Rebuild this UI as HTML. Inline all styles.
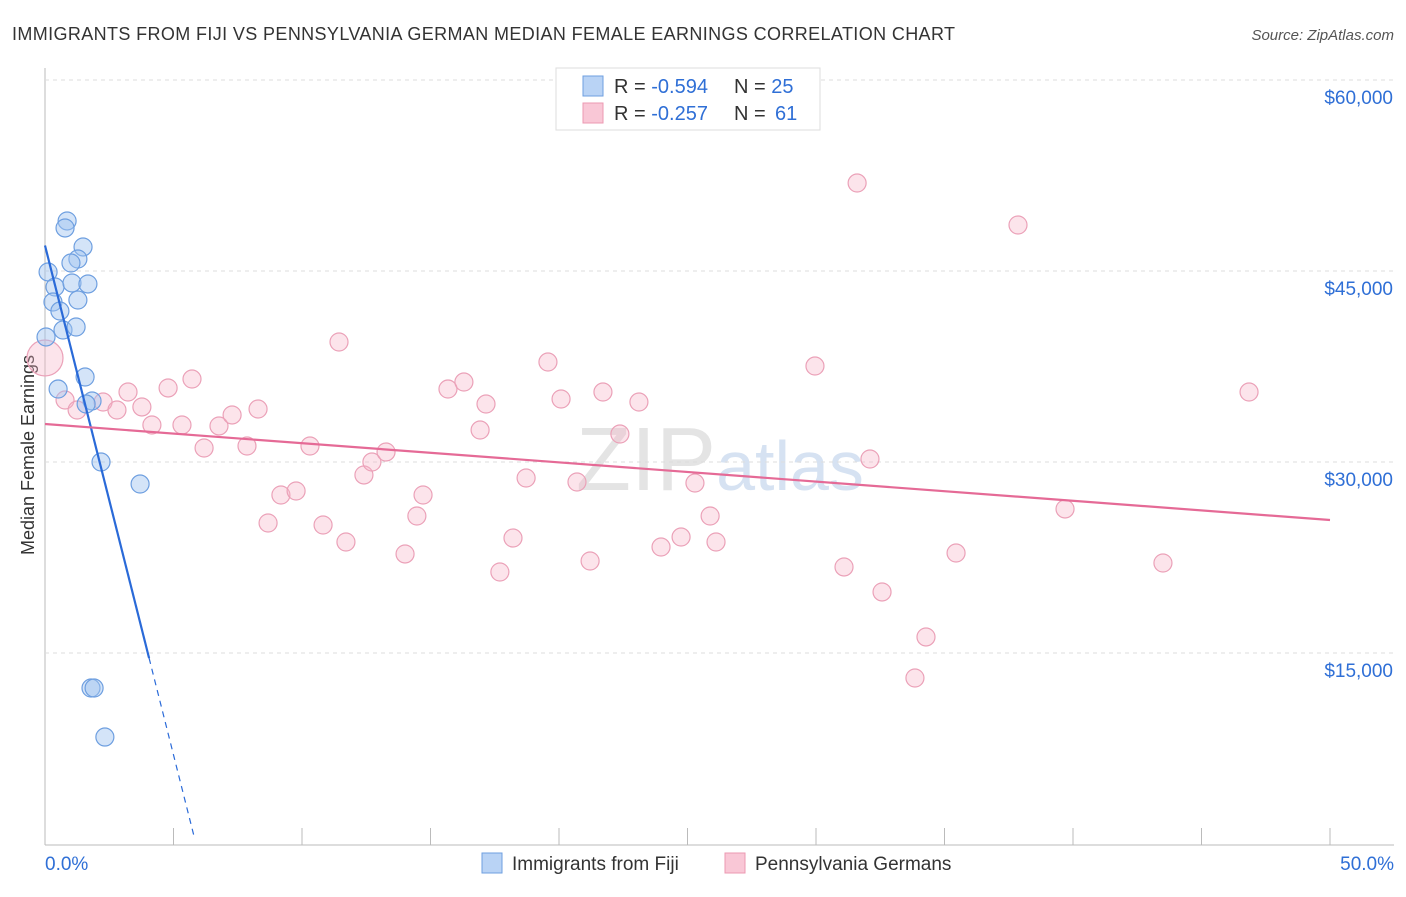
<!DOCTYPE html>
<html><head><meta charset="utf-8"><style>
body{margin:0;background:#fff;font-family:"Liberation Sans",sans-serif}
svg text{font-family:"Liberation Sans",sans-serif}
</style></head><body>
<svg id="c" width="1406" height="892">
<text x="12" y="40" font-size="18" fill="#333" textLength="943" lengthAdjust="spacing">IMMIGRANTS FROM FIJI VS PENNSYLVANIA GERMAN MEDIAN FEMALE EARNINGS CORRELATION CHART</text>
<text x="1394" y="40" font-size="15" fill="#555" font-style="italic" text-anchor="end">Source: ZipAtlas.com</text>
<text x="720" y="490" font-size="90" fill="#e4e4e4" text-anchor="middle" font-family="Liberation Serif">ZIP<tspan fill="#d6e2f2" font-family="Liberation Sans" font-size="70">atlas</tspan></text>
<text transform="translate(34,455) rotate(-90)" font-size="18" fill="#333" text-anchor="middle">Median Female Earnings</text>
<g id="grid"></g><g id="pts"></g><g id="lines"></g>
<g>
<rect x="556" y="68" width="264" height="62" fill="#fff" stroke="#ddd"/>
<rect x="583" y="76" width="20" height="20" fill="#b9d3f5" stroke="#6e9fe0"/>
<rect x="583" y="103" width="20" height="20" fill="#f9c7d6" stroke="#ec98b2"/>
<text x="614" y="93" font-size="20" fill="#333">R = <tspan fill="#2f6fd6">-0.594</tspan></text>
<text x="734" y="93" font-size="20" fill="#333">N = <tspan fill="#2f6fd6">25</tspan></text>
<text x="614" y="120" font-size="20" fill="#333">R = <tspan fill="#2f6fd6">-0.257</tspan></text>
<text x="734" y="120" font-size="20" fill="#333">N =  <tspan fill="#2f6fd6" x="775">61</tspan></text>
</g>
<g>
<rect x="482" y="853" width="20" height="20" fill="#b9d3f5" stroke="#6e9fe0"/>
<text x="512" y="870" font-size="19" fill="#333">Immigrants from Fiji</text>
<rect x="725" y="853" width="20" height="20" fill="#f9c7d6" stroke="#ec98b2"/>
<text x="755" y="870" font-size="19" fill="#333">Pennsylvania Germans</text>
</g>
<text x="45" y="870" font-size="19" fill="#2f6fd6">0.0%</text>
<text x="1394" y="870" font-size="19" fill="#2f6fd6" text-anchor="end">50.0%</text>
</svg>
<script>
const yTicks=[15000,30000,45000,60000];
const yTickLabels=["$15,000","$30,000","$45,000","$60,000"];
const xTicks=[0,5,10,15,20,25,30,35,40,45,50];
const fijiX=[0.86,0.78,1.48,1.28,1.01,0.12,0.39,1.05,1.67,1.28,0.31,0.58,0.70,1.21,0.04,1.56,0.51,1.83,1.60,2.18,3.70,1.79,1.91,2.33];
const fijiY=[48925,48375,46883,45940,45626,44920,43741,44056,43977,42720,42563,41856,40364,40600,39815,36673,35730,34790,34553,29998,28270,12250,12250,8400];
const pennX=[0,0.78,1.25,2.26,2.80,3.23,3.77,4.16,4.79,5.33,5.72,6.19,6.77,7.28,7.86,8.29,8.68,9.18,9.77,10.31,10.82,11.44,11.71,12.41,12.72,13.27,14.01,14.47,14.71,15.68,16.30,16.93,17.16,17.70,18.21,18.72,19.57,20.08,20.70,21.21,21.71,22.37,23.11,23.97,24.75,25.29,25.88,26.11,29.96,31.09,31.60,32.10,32.57,33.85,34.28,35.45,37.86,39.69,43.50,46.85];
const pennY=[38165,34867,34082,34710,34082,35495,34318,32904,35810,32904,36516,31098,32826,33690,31255,34160,25208,27407,27721,31255,25051,39422,23716,28978,29998,30784,22774,25758,27407,35730,36280,32511,34553,21360,24030,28742,37851,34946,28428,22224,35495,32197,34710,23323,24108,28349,25758,23716,37537,21753,51908,30234,19790,13036,16256,22852,48610,26308,22067,35495];
const fijiTrend=[47000,-8000];
const pennTrend=[32984,-150.8];
const NS="http://www.w3.org/2000/svg";
const sx=v=>45+v*25.7, sy=v=>844-v/78.53;
function mk(t,a,p){const e=document.createElementNS(NS,t);for(const k in a)e.setAttribute(k,a[k]);p.appendChild(e);return e;}
const grid=document.getElementById('grid');
mk('line',{x1:45,y1:68,x2:45,y2:845,stroke:'#bbb'},grid);
mk('line',{x1:45,y1:845,x2:1394,y2:845,stroke:'#bbb'},grid);
yTicks.forEach((v,i)=>{
 const g=mk('line',{x1:45,y1:sy(v),x2:1394,y2:sy(v),stroke:'#ddd','stroke-dasharray':'4,4'},grid);
 
 
 const t=mk('text',{x:1393,y:sy(v)+24,'font-size':19,fill:'#2f6fd6','text-anchor':'end'},grid);
 t.textContent=yTickLabels[i];
 
 
});
xTicks.forEach(v=>{
 const l=mk('line',{x1:sx(v),y1:828,x2:sx(v),y2:845,stroke:'#bbb'},grid);
 
 
});
const pts=document.getElementById('pts');
pennX.forEach((x,i)=>{
 const c=mk('circle',{cx:sx(x),cy:sy(pennY[i]),r:i===0?18:9,fill:'rgba(246,177,198,0.35)',stroke:'#eba1b8','stroke-width':1.2},pts);
 
 
});
fijiX.forEach((x,i)=>{
 const c=mk('circle',{cx:sx(x),cy:sy(fijiY[i]),r:9,fill:'rgba(160,196,240,0.45)',stroke:'#6e9fe0','stroke-width':1.2},pts);
 
 
});
const ln=document.getElementById('lines');
const fy=x=>fijiTrend[0]+fijiTrend[1]*x;
let a=mk('line',{x1:sx(0),y1:sy(fy(0)),x2:sx(4.05),y2:sy(fy(4.05)),stroke:'#2a6ad8','stroke-width':2.2},ln);


const xEnd=-fijiTrend[0]/fijiTrend[1];
let b=mk('line',{x1:sx(4.05),y1:sy(fy(4.05)),x2:sx(xEnd*0.985),y2:sy(fy(xEnd*0.985)),stroke:'#2a6ad8','stroke-width':1.2,'stroke-dasharray':'6,5'},ln);


const py=x=>pennTrend[0]+pennTrend[1]*x;
let p=mk('line',{x1:sx(0),y1:sy(py(0)),x2:sx(50),y2:sy(py(50)),stroke:'#e56a96','stroke-width':2.2},ln);


</script>
</body></html>
